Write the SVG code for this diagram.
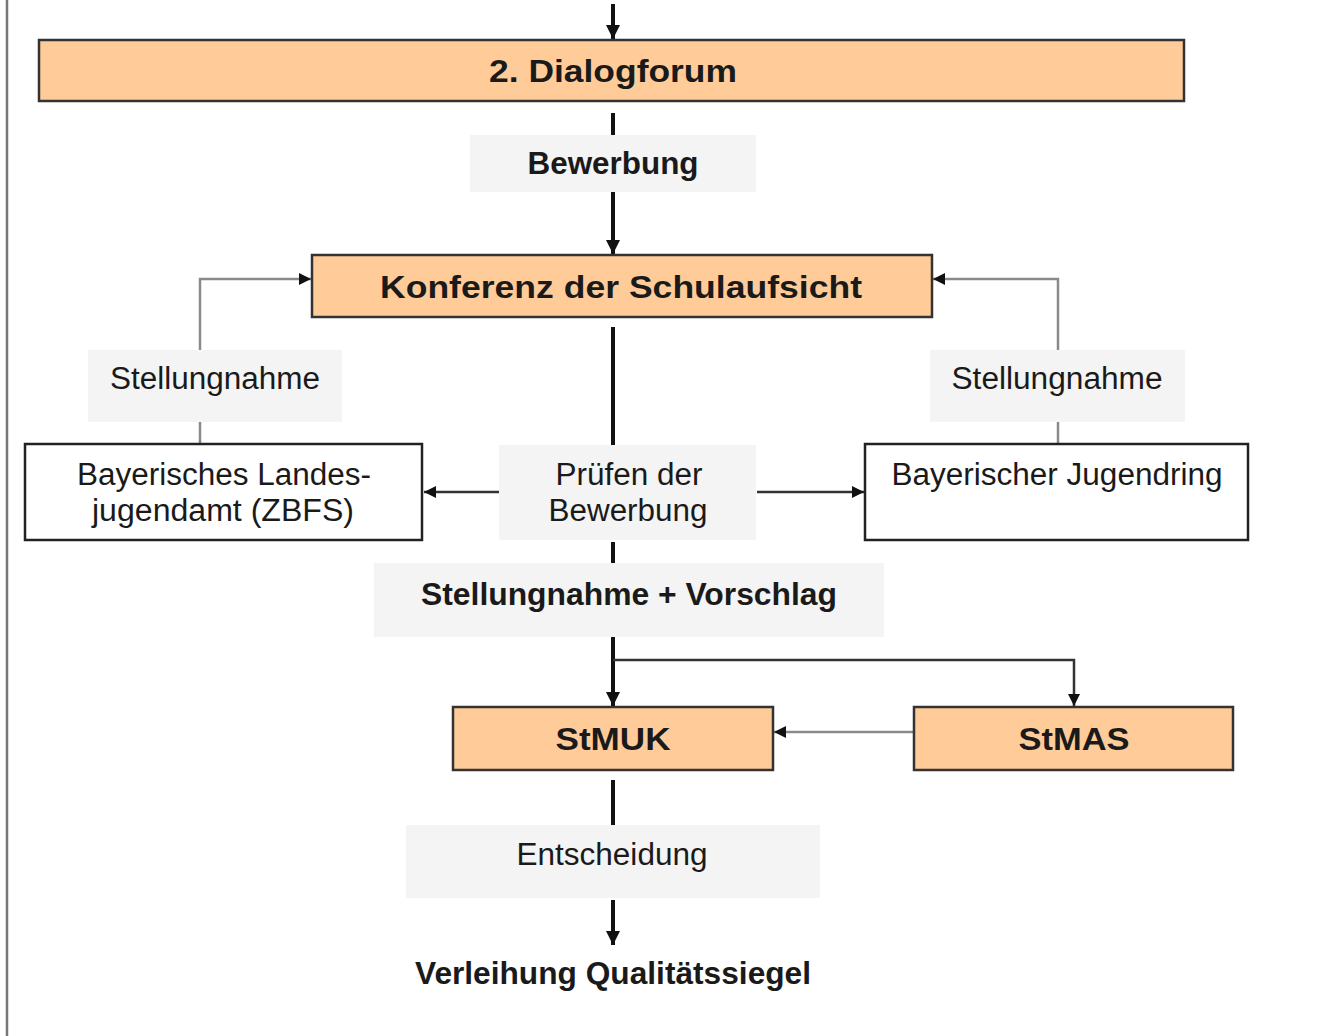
<svg xmlns="http://www.w3.org/2000/svg" width="1344" height="1036" viewBox="0 0 1344 1036">
<style>
.box{fill:#FFCC99;stroke:#333;stroke-width:2.5}
.wbox{fill:#fff;stroke:#222;stroke-width:2.5}
.lbl{fill:#F4F4F4;stroke:none}
text{font-family:"Liberation Sans",Arial,sans-serif;font-size:31px;fill:#1a1a1a;text-anchor:middle}
.b{font-weight:bold}
.thick{stroke:#111;stroke-width:4;fill:none}
.gray{stroke:#8a8a8a;stroke-width:2.5;fill:none}
.mid{stroke:#333;stroke-width:2.5;fill:none}
</style>
<defs>
<marker id="ah" markerUnits="userSpaceOnUse" markerWidth="16" markerHeight="14" refX="14" refY="7" orient="auto">
<path d="M0,0 L14,7 L0,14 Z" fill="#111"/>
</marker>
<marker id="ahs" markerUnits="userSpaceOnUse" markerWidth="14" markerHeight="12" refX="12" refY="6" orient="auto">
<path d="M0,0 L12,6 L0,12 Z" fill="#111"/>
</marker>
</defs>
<rect width="1344" height="1036" fill="#fff"/>
<line x1="7" y1="0" x2="7" y2="1036" stroke="#777" stroke-width="2.5"/>

<g id="connectors">
<line class="thick" x1="613" y1="4" x2="613" y2="39" marker-end="url(#ah)"/>
<line class="thick" x1="613" y1="113" x2="613" y2="135"/>
<line class="thick" x1="613" y1="192" x2="613" y2="254" marker-end="url(#ah)"/>
<polyline class="gray" points="200,444 200,279 311,279" marker-end="url(#ahs)"/>
<polyline class="gray" points="1058,444 1058,279 933,279" marker-end="url(#ahs)"/>
<line class="thick" x1="613" y1="327" x2="613" y2="445"/>
<line class="mid" x1="499" y1="492" x2="424" y2="492" marker-end="url(#ahs)"/>
<line class="mid" x1="757" y1="492" x2="864" y2="492" marker-end="url(#ahs)"/>
<line class="thick" x1="613" y1="542" x2="613" y2="563"/>
<line class="thick" x1="613" y1="637" x2="613" y2="706" marker-end="url(#ah)"/>
<polyline class="mid" points="613,660 1074,660 1074,706" marker-end="url(#ahs)"/>
<line class="gray" x1="914" y1="732" x2="774" y2="732" marker-end="url(#ahs)"/>
<line class="thick" x1="613" y1="780" x2="613" y2="825"/>
<line class="thick" x1="613" y1="900" x2="613" y2="945" marker-end="url(#ah)"/>
</g>

<g id="dialogforum">
<rect class="box" x="39" y="40" width="1145" height="61"/>
<text class="b" x="613" y="82" textLength="248" lengthAdjust="spacingAndGlyphs">2. Dialogforum</text>
</g>
<g id="label-bewerbung">
<rect class="lbl" x="470" y="135" width="286" height="57"/>
<text class="b" x="613" y="174" textLength="171" lengthAdjust="spacingAndGlyphs">Bewerbung</text>
</g>
<g id="konferenz">
<rect class="box" x="312" y="255" width="620" height="62"/>
<text class="b" x="621" y="298" textLength="482" lengthAdjust="spacingAndGlyphs">Konferenz der Schulaufsicht</text>
</g>
<g id="label-stellungnahme-left">
<rect class="lbl" x="88" y="350" width="254" height="72"/>
<text x="215" y="389" textLength="210" lengthAdjust="spacingAndGlyphs">Stellungnahme</text>
</g>
<g id="label-stellungnahme-right">
<rect class="lbl" x="930" y="350" width="255" height="72"/>
<text x="1057" y="389" textLength="211" lengthAdjust="spacingAndGlyphs">Stellungnahme</text>
</g>
<g id="landesjugendamt">
<rect class="wbox" x="25" y="444" width="397" height="96"/>
<text x="224" y="485" textLength="294" lengthAdjust="spacingAndGlyphs">Bayerisches Landes-</text>
<text x="223" y="521" textLength="262" lengthAdjust="spacingAndGlyphs">jugendamt (ZBFS)</text>
</g>
<g id="label-pruefen">
<rect class="lbl" x="499" y="445" width="257" height="95"/>
<text x="629" y="485" textLength="147" lengthAdjust="spacingAndGlyphs">Prüfen der</text>
<text x="628" y="521" textLength="159" lengthAdjust="spacingAndGlyphs">Bewerbung</text>
</g>
<g id="jugendring">
<rect class="wbox" x="865" y="444" width="383" height="96"/>
<text x="1057" y="485" textLength="331" lengthAdjust="spacingAndGlyphs">Bayerischer Jugendring</text>
</g>
<g id="label-vorschlag">
<rect class="lbl" x="374" y="563" width="510" height="74"/>
<text class="b" x="629" y="605" textLength="416" lengthAdjust="spacingAndGlyphs">Stellungnahme + Vorschlag</text>
</g>
<g id="stmuk">
<rect class="box" x="453" y="707" width="320" height="63"/>
<text class="b" x="613" y="750" textLength="115" lengthAdjust="spacingAndGlyphs">StMUK</text>
</g>
<g id="stmas">
<rect class="box" x="914" y="707" width="319" height="63"/>
<text class="b" x="1074" y="750" textLength="111" lengthAdjust="spacingAndGlyphs">StMAS</text>
</g>
<g id="label-entscheidung">
<rect class="lbl" x="406" y="825" width="414" height="73"/>
<text x="612" y="865" textLength="191" lengthAdjust="spacingAndGlyphs">Entscheidung</text>
</g>
<g id="verleihung">
<text class="b" x="613" y="984" textLength="396" lengthAdjust="spacingAndGlyphs">Verleihung Qualitätssiegel</text>
</g>
</svg>
